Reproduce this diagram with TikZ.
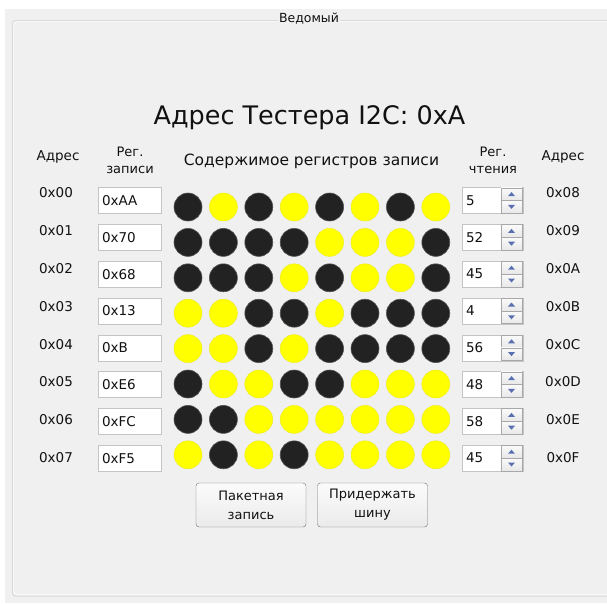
\documentclass[tikz,border=0pt]{standalone}
\usepackage{fontspec}
\setmainfont{DejaVu Sans}
\definecolor{panelgray}{HTML}{F0F0F0}
\definecolor{framec}{HTML}{D5DADF}
\definecolor{darkdot}{HTML}{222222}
\definecolor{dotedge}{HTML}{555555}
\definecolor{yellowdot}{HTML}{FFFF00}
\definecolor{boxedge}{HTML}{C4C4C4}
\definecolor{spinedge}{HTML}{A8A8A8}
\definecolor{arrowc}{HTML}{5A6FB0}
\definecolor{btnedge}{HTML}{707070}
\definecolor{txt}{HTML}{111111}
\begin{document}
\begin{tikzpicture}[x=1pt,y=-1pt,
  lbl/.style={font=\fontsize{13.5}{17}\selectfont, text=txt, inner sep=0pt, align=center},
  hdr/.style={font=\fontsize{13}{17}\selectfont, text=txt, inner sep=0pt, align=center},
  tbox/.style={draw=boxedge, fill=white, minimum height=26, text width=55, inner xsep=4, align=left,
    text=txt, font=\fontsize{13.5}{15}\selectfont},
  spinbtn/.style={draw=spinedge, top color=white!96!gray, bottom color=white!82!gray, minimum width=21, minimum height=12.5, inner sep=0pt},
  dk/.style={circle, fill=darkdot, draw=dotedge, line width=0.6pt, minimum size=28, inner sep=0pt},
  yl/.style={circle, fill=yellowdot, draw=yellowdot!85!gray, line width=0.4pt, minimum size=28, inner sep=0pt},
  btn/.style={draw=btnedge, rounded corners=3pt, top color=white!97!gray, bottom color=white!84!gray,
    minimum width=110, minimum height=44, align=center, text=txt, font=\fontsize{13}{19}\selectfont, inner sep=0pt}]
\useasboundingbox (0,0) rectangle (607,603);
\fill[white] (0,0) rectangle (607,603);
\fill[panelgray] (5,9) rectangle (607,603);
\draw[framec, line width=1pt, rounded corners=3pt] (12.5,20.5) rectangle (640,596);
\draw[white, line width=0.8pt, rounded corners=3pt] (13.7,21.7) rectangle (640,594.8);
\node[lbl, font=\fontsize{12.5}{16}\selectfont, fill=panelgray, inner xsep=1.5pt, inner ysep=1pt] (grp) at (309,19) {Ведомый};
\node[font=\fontsize{25.5}{28}\selectfont, text=txt, inner sep=0pt] (title) at (309.5,118) {Адрес Тестера I2C: 0xA};
\node[lbl] (hla) at (58,157) {Адрес};
\node[hdr] (hw) at (130,160) {Рег.\\записи};
\node[font=\fontsize{15.5}{17}\selectfont, text=txt, inner sep=0pt] (hc) at (311.5,161) {Содержимое регистров записи};
\node[hdr] (hr) at (493,160) {Рег.\\чтения};
\node[lbl] (hra) at (563,157) {Адрес};
\foreach \i/\w/\v/\r/\h in {0/AA/170/5/8, 1/70/112/52/9, 2/68/104/45/A, 3/13/19/4/B,
    4/B/11/56/C, 5/E6/230/48/D, 6/FC/252/58/E, 7/F5/245/45/F} {
  \pgfmathsetmacro\ly{193+37.8*\i}
  \pgfmathsetmacro\by{200.5+36.8*\i}
  \pgfmathsetmacro\cy{207+35.4*\i}
  \node[lbl] (la\i) at (56,\ly) {0x0\i};
  \node[tbox] (w\i) at (129.5,\by) {0x\w};
  \foreach \j in {0,...,7} {
    \pgfmathtruncatemacro\bit{mod(floor(\v/2^\j),2)}
    \ifnum\bit=1 \def\cc{yl}\else\def\cc{dk}\fi
    \node[\cc] (c\i\j) at ({188+35.4*\j},\cy) {};
  }
  \node[tbox, text width=53] (r\i) at (492.5,\by) {\r};
  \node[spinbtn] (u\i) at (511.5,\by-6.4) {};
  \node[spinbtn] (d\i) at (511.5,\by+6.4) {};
  \fill[arrowc] (u\i.center) ++(-3.5,2) -- ++(7,0) -- ++(-3.5,-4) -- cycle;
  \fill[arrowc] (d\i.center) ++(-3.5,-2) -- ++(7,0) -- ++(-3.5,4) -- cycle;
  \node[lbl] (ra\i) at (563,\ly) {0x0\h};
}
\node[btn] (b1) at (251,505) {Пакетная\\запись};
\node[btn] (b2) at (372.5,505) {Придержать\\шину};
\end{tikzpicture}
\end{document}
